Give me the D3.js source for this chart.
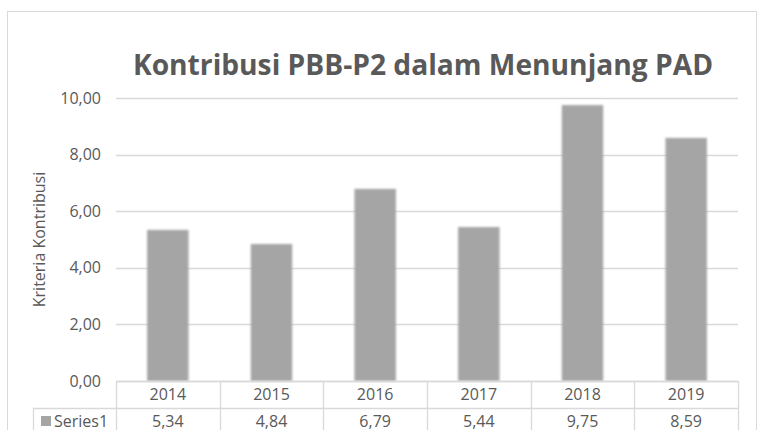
<!DOCTYPE html>
<html>
<head>
<meta charset="utf-8">
<script src="https://cdn.jsdelivr.net/npm/d3@7"></script>
<style>
  body { margin: 0; background: #fff; }
  text { font-family: "Open Sans", Lato, sans-serif; fill: #595959; }
</style>
</head>
<body>
<div class="canvas"></div>
<script>
const years = ['2014', '2015', '2016', '2017', '2018', '2019'];
const series1 = [5.34, 4.84, 6.79, 5.44, 9.75, 8.59];
const yTicks = [0, 2, 4, 6, 8, 10];
const seriesName = 'Series1';
const title = 'Kontribusi PBB-P2 dalam Menunjang PAD';
const yTitle = 'Kriteria Kontribusi';

const dims = { width: 760, height: 430 };
const plot = { left: 116, right: 738, top: 98, bottom: 381 };
const rowH = 27;
const fs = 16;

const fmt = v => d3.format('.2f')(v).replace('.', ',');

const svg = d3.select('.canvas')
  .append('svg')
    .attr('width', dims.width)
    .attr('height', dims.height)

const defs = svg.append('defs')
const shadow = defs.append('filter')
  .attr('id', 'soft')
  .attr('x', '-20%').attr('y', '-5%').attr('width', '140%').attr('height', '110%')
shadow.append('feGaussianBlur').attr('stdDeviation', 0.8)

// chart border
svg.append('rect')
  .attr('x', 7.5).attr('y', 11.5)
  .attr('width', 749).attr('height', 440)
  .attr('fill', 'none')
  .attr('stroke', '#d9d9d9')

const x = d3.scaleBand()
  .domain(years)
  .range([plot.left, plot.right])
  .paddingInner(0.6)
  .paddingOuter(0.3)

const xCell = d3.scaleBand()
  .domain(years)
  .range([plot.left, plot.right])

const y = d3.scaleLinear()
  .domain([0, 10])
  .range([plot.bottom, plot.top])

// gridlines
svg.append('g')
  .selectAll('line')
  .data(yTicks)
  .enter()
  .append('line')
    .attr('x1', plot.left)
    .attr('x2', plot.right)
    .attr('y1', d => Math.round(y(d)) + 0.5)
    .attr('y2', d => Math.round(y(d)) + 0.5)
    .attr('stroke', '#d9d9d9')
    .attr('stroke-width', 1.3)

// tick labels
svg.append('g')
  .selectAll('text')
  .data(yTicks)
  .enter()
  .append('text')
    .attr('x', 101)
    .attr('y', d => y(d) + 5.5)
    .attr('text-anchor', 'end')
    .attr('font-size', fs)
    .text(fmt)

// bars
svg.append('g')
  .selectAll('rect')
  .data(series1)
  .enter()
  .append('rect')
    .attr('x', (d, i) => x(years[i]))
    .attr('y', d => y(d))
    .attr('width', x.bandwidth())
    .attr('height', d => y(0) - y(d))
    .attr('fill', '#a5a5a5')
    .attr('filter', 'url(#soft)')

// data table
const table = svg.append('g')
  .attr('stroke', '#d9d9d9')
  .attr('stroke-width', 1.3)

table.append('line')
  .attr('x1', plot.left).attr('x2', plot.right)
  .attr('y1', plot.bottom + 0.5).attr('y2', plot.bottom + 0.5)
table.append('line')
  .attr('x1', 33).attr('x2', plot.right)
  .attr('y1', plot.bottom + rowH + 0.5).attr('y2', plot.bottom + rowH + 0.5)
table.append('line')
  .attr('x1', 33.5).attr('x2', 33.5)
  .attr('y1', plot.bottom + rowH).attr('y2', dims.height)

table.selectAll('.vline')
  .data(years.concat(['end']))
  .enter()
  .append('line')
    .attr('class', 'vline')
    .attr('x1', (d, i) => Math.round(plot.left + i * xCell.bandwidth()) + 0.5)
    .attr('x2', (d, i) => Math.round(plot.left + i * xCell.bandwidth()) + 0.5)
    .attr('y1', plot.bottom)
    .attr('y2', dims.height)

svg.append('g')
  .selectAll('text')
  .data(years)
  .enter()
  .append('text')
    .attr('x', d => xCell(d) + xCell.bandwidth() / 2)
    .attr('y', plot.bottom + 19)
    .attr('text-anchor', 'middle')
    .attr('font-size', fs)
    .text(d => d)

svg.append('g')
  .selectAll('text')
  .data(series1)
  .enter()
  .append('text')
    .attr('x', (d, i) => xCell(years[i]) + xCell.bandwidth() / 2)
    .attr('y', plot.bottom + rowH + 18.5)
    .attr('text-anchor', 'middle')
    .attr('font-size', fs)
    .text(fmt)

// legend key inside table
svg.append('rect')
  .attr('x', 41).attr('y', plot.bottom + rowH + 8)
  .attr('width', 10).attr('height', 10)
  .attr('fill', '#a5a5a5')
svg.append('text')
  .attr('x', 54)
  .attr('y', plot.bottom + rowH + 18.5)
  .attr('font-size', fs)
  .text(seriesName)

// axis title
svg.append('text')
  .attr('transform', `translate(45, ${(plot.top + plot.bottom) / 2}) rotate(-90)`)
  .attr('text-anchor', 'middle')
  .attr('font-size', 16)
  .text(yTitle)

// chart title
svg.append('text')
  .attr('x', 423)
  .attr('y', 75)
  .attr('text-anchor', 'middle')
  .attr('font-size', 28.2)
  .attr('font-weight', 'bold')
  .text(title)
</script>
</body>
</html>
